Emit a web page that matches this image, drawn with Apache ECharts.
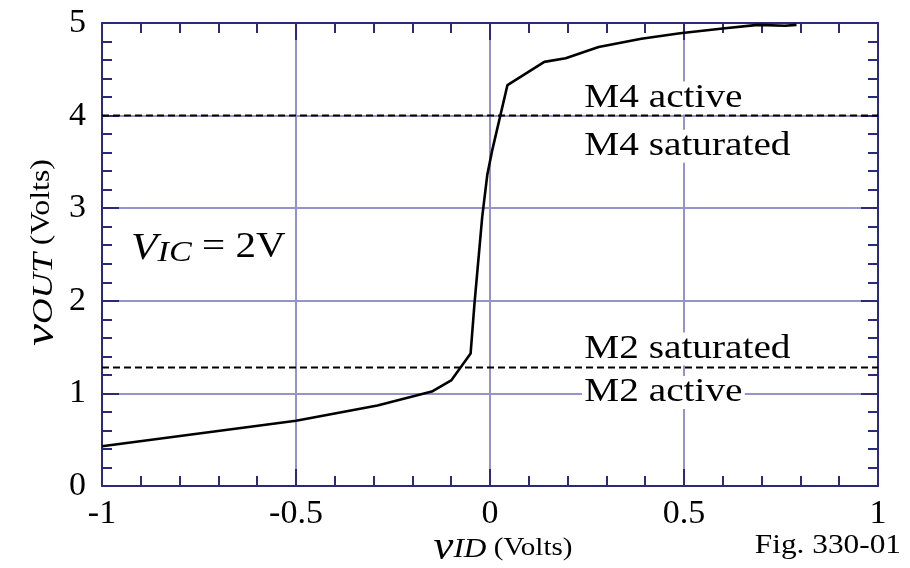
<!DOCTYPE html>
<html>
<head>
<meta charset="utf-8">
<script src="https://cdn.jsdelivr.net/npm/echarts@6/dist/echarts.min.js"></script>
<style>
html,body{margin:0;padding:0;background:#fff;}
#chart{width:910px;height:568px;}
</style>
</head>
<body>
<div id="chart"></div>
<script>
// ---- data ----
const vID  = [-1, -0.5, -0.29, -0.15, -0.1, -0.05, -0.04, -0.02, -0.007, 0.006, 0.045, 0.14, 0.195, 0.28, 0.39, 0.49, 0.6, 0.69, 0.76, 0.79];
const vOUT = [0.43, 0.705, 0.87, 1.02, 1.14, 1.43, 1.97, 2.91, 3.36, 3.63, 4.33, 4.58, 4.62, 4.74, 4.83, 4.89, 4.94, 4.98, 4.97, 4.98];
const boundaryLevels = [4, 1.28];
const xTicks = [-1, -0.5, 0, 0.5, 1];
const yTicks = [0, 1, 2, 3, 4, 5];
const annoX = [0.237, 0.237, 0.237, 0.237];
const annoY = [4.19, 3.67, 1.48, 1.01];
const annoText = ['M4 active', 'M4 saturated', 'M2 saturated', 'M2 active'];
const vicX = -0.925, vicY = 2.56;

const FONT = '"Liberation Serif", "DejaVu Serif", serif';
const AXIS = '#2a2a78';
const GRIDC = '#9494c8';
const SX = 1.19; // horizontal text stretch seen in the reference

const chart = echarts.init(document.getElementById('chart'), null, {renderer: 'canvas'});
const curve = vID.map((x, i) => [x, vOUT[i]]);
const tickFmt = v => String(Math.round(v * 100) / 100);

function mkX(pos, labels) {
  return {
    type: 'value', min: xTicks[0], max: xTicks[xTicks.length - 1], interval: 0.5,
    position: pos,
    axisLine: {show: true, onZero: false, lineStyle: {color: AXIS, width: 2}},
    axisTick: {show: true, inside: true, length: 17, lineStyle: {color: AXIS, width: 2}},
    minorTick: {show: true, splitNumber: 5, length: 10, lineStyle: {color: AXIS, width: 2}},
    axisLabel: labels ? {show: true, margin: 11, color: '#000', fontFamily: FONT, fontSize: 34, formatter: tickFmt, showMinLabel: true, showMaxLabel: true, hideOverlap: false} : {show: false},
    splitLine: {show: labels, lineStyle: {color: GRIDC, width: 2}},
    minorSplitLine: {show: false}
  };
}
function mkY(pos, labels) {
  return {
    type: 'value', min: yTicks[0], max: yTicks[yTicks.length - 1], interval: 1,
    position: pos,
    axisLine: {show: true, onZero: false, lineStyle: {color: AXIS, width: 2}},
    axisTick: {show: true, inside: true, length: 17, lineStyle: {color: AXIS, width: 2}},
    minorTick: {show: true, splitNumber: 5, length: 10, lineStyle: {color: AXIS, width: 2}},
    axisLabel: labels ? {show: true, margin: 16, color: '#000', fontFamily: FONT, fontSize: 34, showMinLabel: true, showMaxLabel: true, hideOverlap: false} : {show: false},
    splitLine: {show: labels, lineStyle: {color: GRIDC, width: 2}},
    minorSplitLine: {show: false}
  };
}

const option = {
  backgroundColor: '#fff',
  animation: false,
  grid: {left: 102, top: 23, right: 32, bottom: 82, containLabel: false, outerBoundsMode: 'none'},
  xAxis: [mkX('bottom', true), mkX('top', false)],
  yAxis: [mkY('left', true), mkY('right', false)],
  series: [
    ...boundaryLevels.map((lv, i) => ({
      type: 'line', name: 'boundary' + i, z: 3,
      xAxisIndex: 0, yAxisIndex: 0,
      data: [[xTicks[0], lv], [xTicks[xTicks.length - 1], lv]],
      symbol: 'none', silent: true,
      lineStyle: {color: '#000', width: 2, type: [7, 4]}
    })),
    {
      type: 'line', name: 'vOUT', z: 4,
      xAxisIndex: 0, yAxisIndex: 0,
      data: curve, symbol: 'none', smooth: false,
      lineStyle: {color: '#000', width: 2.6}
    }
  ]
};
chart.setOption(option);

// ---- text placed from data / axis extents ----
const toPx = (x, y) => chart.convertToPixel({xAxisIndex: 0, yAxisIndex: 0}, [x, y]);
const pMin = toPx(xTicks[0], yTicks[0]);
const pMax = toPx(xTicks[xTicks.length - 1], yTicks[yTicks.length - 1]);
const gx0 = pMin[0], gy0 = pMin[1], gx1 = pMax[0], gy1 = pMax[1];

const graphics = [];
annoText.forEach((t, i) => {
  const p = toPx(annoX[i], annoY[i]);
  graphics.push({
    type: 'text', x: p[0], y: p[1], scaleX: SX, z: 1,
    style: {text: t, fontFamily: FONT, fontSize: 33, fill: '#000', align: 'left', verticalAlign: 'middle',
            backgroundColor: '#fff', padding: [0, 2, 0, 2]}
  });
});
const pv = toPx(vicX, vicY);
graphics.push({
  type: 'text', x: pv[0], y: pv[1], scaleX: 1.14, z: 1,
  style: {
    text: '{v|V}{sub|IC}{eq| = 2V}', align: 'left', verticalAlign: 'middle',
    rich: {
      v:  {fontFamily: FONT, fontSize: 38, fontStyle: 'italic', fill: '#000', lineHeight: 38, verticalAlign: 'top'},
      sub:{fontFamily: FONT, fontSize: 30, fontStyle: 'italic', fill: '#000', lineHeight: 30, padding: [14, 0, 0, 0], verticalAlign: 'bottom'},
      eq: {fontFamily: FONT, fontSize: 36, fill: '#000', lineHeight: 38, verticalAlign: 'top'}
    }
  }
});
// x axis title
graphics.push({
  type: 'text', x: (gx0 + gx1) / 2 + 13, y: gy0 + 60, scaleX: 1.12, z: 1,
  style: {
    text: '{v|v}{sub|ID}{u| (Volts)}', align: 'center', verticalAlign: 'middle',
    rich: {
      v:  {fontFamily: FONT, fontSize: 40, fontStyle: 'italic', fill: '#000', lineHeight: 36, verticalAlign: 'top'},
      sub:{fontFamily: FONT, fontSize: 28, fontStyle: 'italic', fill: '#000', lineHeight: 28, padding: [12, 0, 0, 0], verticalAlign: 'bottom'},
      u:  {fontFamily: FONT, fontSize: 26, fill: '#000', lineHeight: 36, padding: [7, 0, 0, 0], verticalAlign: 'top'}
    }
  }
});
// y axis title
graphics.push({
  type: 'text', x: gx0 - 62, y: (gy0 + gy1) / 2 - 2, rotation: Math.PI / 2, scaleX: 1.18, z: 1,
  style: {
    text: '{v|v}{sub|OUT}{u| (Volts)}', align: 'center', verticalAlign: 'middle',
    rich: {
      v:  {fontFamily: FONT, fontSize: 42, fontStyle: 'italic', fill: '#000', lineHeight: 38, verticalAlign: 'top'},
      sub:{fontFamily: FONT, fontSize: 30, fontStyle: 'italic', fill: '#000', lineHeight: 30, padding: [8, 0, 0, 0], verticalAlign: 'bottom'},
      u:  {fontFamily: FONT, fontSize: 27, fill: '#000', lineHeight: 38, padding: [7, 0, 0, 0], verticalAlign: 'top'}
    }
  }
});
// figure number
graphics.push({
  type: 'text', x: 901, y: 546, scaleX: 1.16, z: 1,
  style: {text: 'Fig. 330-01', fontFamily: FONT, fontSize: 27, fill: '#000', align: 'right', verticalAlign: 'middle'}
});
chart.setOption({graphic: graphics});
</script>
</body>
</html>
